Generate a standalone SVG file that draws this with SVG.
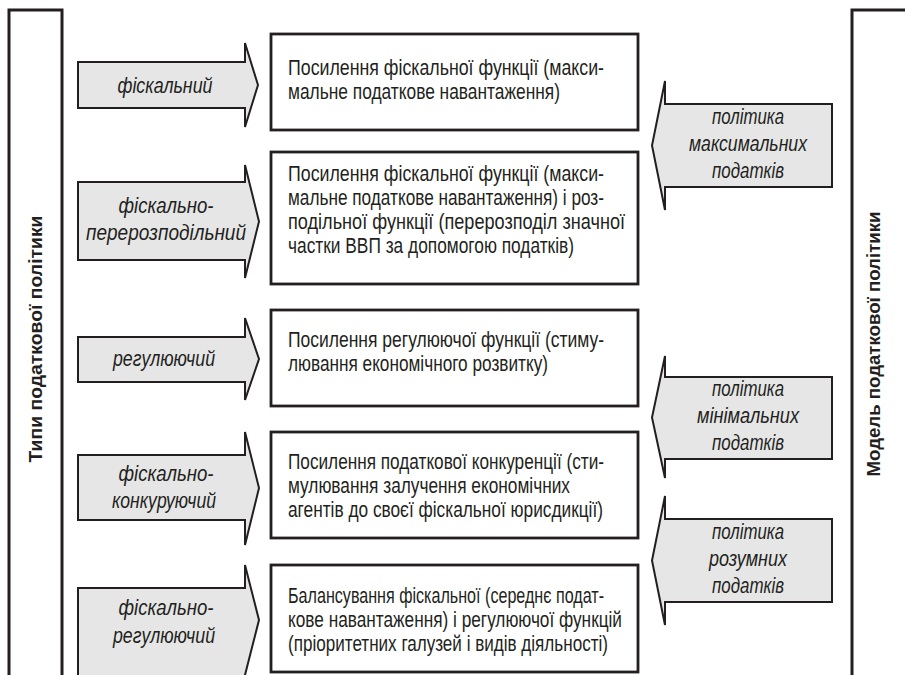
<svg xmlns="http://www.w3.org/2000/svg" width="905" height="675" viewBox="0 0 905 675">
<style>
.bar{fill:none;stroke:#231f20;stroke-width:3}
.box{fill:#fff;stroke:#231f20;stroke-width:2.8}
.arr{fill:#e6e6e6;stroke:#231f20;stroke-width:2}
.t{font-family:"Liberation Sans",Arial,sans-serif;font-size:22px;fill:#231f20}
.i{font-family:"Liberation Sans",Arial,sans-serif;font-size:22px;font-style:italic;fill:#231f20;text-anchor:middle}
.b{font-family:"Liberation Sans",Arial,sans-serif;font-size:18px;font-weight:bold;fill:#231f20;text-anchor:middle}
</style>
<rect width="905" height="675" fill="#fff"/>
<g id="left-bar">
<rect class="bar" x="9" y="10" width="53" height="700"/>
<text class="b" transform="translate(42,339) rotate(-90)" textLength="247" lengthAdjust="spacingAndGlyphs">Типи податкової політики</text>
</g>
<g id="right-bar">
<rect class="bar" x="852" y="10" width="80" height="700"/>
<text class="b" transform="translate(880,344) rotate(-90)" textLength="265" lengthAdjust="spacingAndGlyphs">Модель податкової політики</text>
</g>
<g id="connectors">
<g id="arrow-fiscal">
<path class="arr" d="M78,62 H245 V43 L258,85 L245,127 V108 H78 Z"/>
<text class="i" x="165" y="93" textLength="95" lengthAdjust="spacingAndGlyphs">фіскальний</text>
</g>
<g id="arrow-fiscal-redistr">
<path class="arr" d="M78,182 H245 V165 L259,221.5 L245,278 V260 H78 Z"/>
<text class="i" x="166" y="213" textLength="95" lengthAdjust="spacingAndGlyphs">фіскально-</text>
<text class="i" x="166" y="240" textLength="160" lengthAdjust="spacingAndGlyphs">перерозподільний</text>
</g>
<g id="arrow-regul">
<path class="arr" d="M78,337 H245 V318 L259,359 L245,400 V382 H78 Z"/>
<text class="i" x="164" y="366" textLength="102" lengthAdjust="spacingAndGlyphs">регулюючий</text>
</g>
<g id="arrow-fiscal-compet">
<path class="arr" d="M78,455 H245 V432 L259,488 L245,545 V520 H78 Z"/>
<text class="i" x="166" y="481" textLength="95" lengthAdjust="spacingAndGlyphs">фіскально-</text>
<text class="i" x="164" y="508" textLength="104" lengthAdjust="spacingAndGlyphs">конкуруючий</text>
</g>
<g id="arrow-fiscal-regul">
<path class="arr" d="M78,588 H245 V565 L259,620 L245,675 V700 H78 Z"/>
<text class="i" x="166" y="615" textLength="95" lengthAdjust="spacingAndGlyphs">фіскально-</text>
<text class="i" x="164" y="643" textLength="102" lengthAdjust="spacingAndGlyphs">регулюючий</text>
</g>
<g id="arrow-max">
<path class="arr" d="M832,104 H665 V81 L652,145.5 L665,210 V187 H832 Z"/>
<text class="i" x="748" y="124" textLength="72" lengthAdjust="spacingAndGlyphs">політика</text>
<text class="i" x="748" y="151" textLength="118" lengthAdjust="spacingAndGlyphs">максимальних</text>
<text class="i" x="748" y="178" textLength="72" lengthAdjust="spacingAndGlyphs">податків</text>
</g>
<g id="arrow-min">
<path class="arr" d="M832,377 H665 V356 L652,417.5 L665,478 V459 H832 Z"/>
<text class="i" x="748" y="396" textLength="72" lengthAdjust="spacingAndGlyphs">політика</text>
<text class="i" x="748" y="423" textLength="102" lengthAdjust="spacingAndGlyphs">мінімальних</text>
<text class="i" x="748" y="450" textLength="72" lengthAdjust="spacingAndGlyphs">податків</text>
</g>
<g id="arrow-reason">
<path class="arr" d="M832,519 H665 V496 L652,560.5 L665,625 V602 H832 Z"/>
<text class="i" x="748" y="539" textLength="72" lengthAdjust="spacingAndGlyphs">політика</text>
<text class="i" x="748" y="566" textLength="78" lengthAdjust="spacingAndGlyphs">розумних</text>
<text class="i" x="748" y="593" textLength="72" lengthAdjust="spacingAndGlyphs">податків</text>
</g>
</g>
<g id="box1">
<rect class="box" x="271" y="34" width="367" height="96"/>
<text class="t" x="288" y="75" textLength="316" lengthAdjust="spacingAndGlyphs">Посилення фіскальної функції (макси-</text>
<text class="t" x="288" y="99" textLength="272" lengthAdjust="spacingAndGlyphs">мальне податкове навантаження)</text>
</g>
<g id="box2">
<rect class="box" x="271" y="152" width="367" height="132"/>
<text class="t" x="288" y="181" textLength="316" lengthAdjust="spacingAndGlyphs">Посилення фіскальної функції (макси-</text>
<text class="t" x="288" y="205" textLength="316" lengthAdjust="spacingAndGlyphs">мальне податкове навантаження) і роз-</text>
<text class="t" x="288" y="229" textLength="337" lengthAdjust="spacingAndGlyphs">подільної функції (перерозподіл значної</text>
<text class="t" x="288" y="253" textLength="286" lengthAdjust="spacingAndGlyphs">частки ВВП за допомогою податків)</text>
</g>
<g id="box3">
<rect class="box" x="271" y="310" width="367" height="96"/>
<text class="t" x="288" y="347" textLength="316" lengthAdjust="spacingAndGlyphs">Посилення регулюючої функції (стиму-</text>
<text class="t" x="288" y="371" textLength="260" lengthAdjust="spacingAndGlyphs">лювання економічного розвитку)</text>
</g>
<g id="box4">
<rect class="box" x="271" y="432" width="367" height="106"/>
<text class="t" x="288" y="469" textLength="316" lengthAdjust="spacingAndGlyphs">Посилення податкової конкуренції (сти-</text>
<text class="t" x="288" y="493" textLength="282" lengthAdjust="spacingAndGlyphs">мулювання залучення економічних</text>
<text class="t" x="288" y="517" textLength="315" lengthAdjust="spacingAndGlyphs">агентів до своєї фіскальної юрисдикції)</text>
</g>
<g id="box5">
<rect class="box" x="271" y="565" width="367" height="107"/>
<text class="t" x="288" y="603" textLength="316" lengthAdjust="spacingAndGlyphs">Балансування фіскальної (середнє подат-</text>
<text class="t" x="288" y="627" textLength="334" lengthAdjust="spacingAndGlyphs">кове навантаження) і регулюючої функцій</text>
<text class="t" x="288" y="651" textLength="320" lengthAdjust="spacingAndGlyphs">(пріоритетних галузей і видів діяльності)</text>
</g>
</svg>
